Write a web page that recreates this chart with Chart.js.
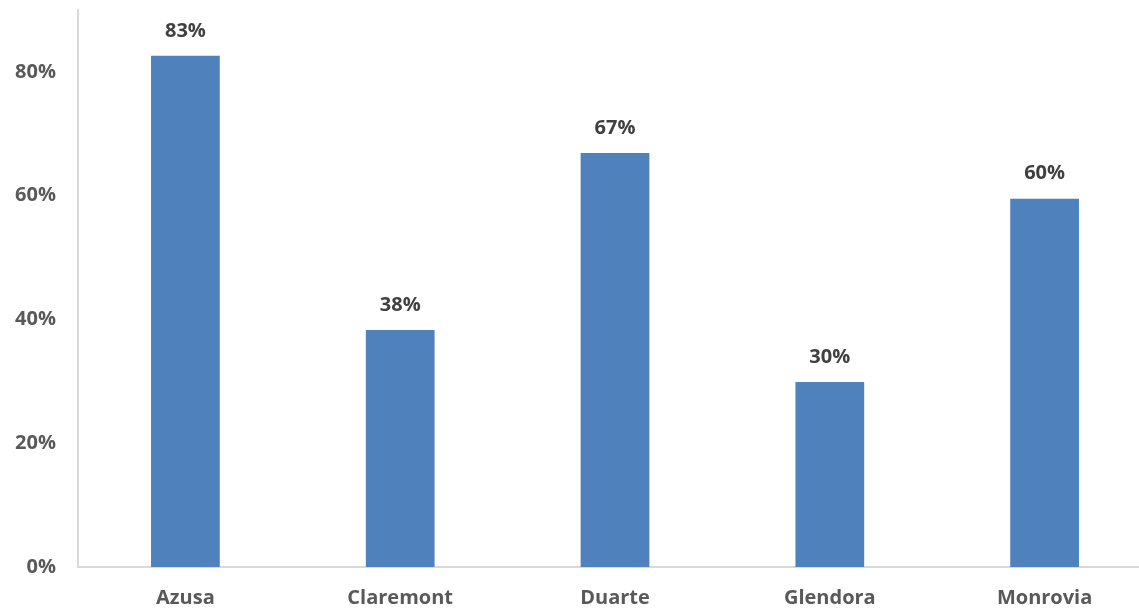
<!DOCTYPE html>
<html>
<head>
<meta charset="utf-8">
<script src="https://cdn.jsdelivr.net/npm/chart.js@4"></script>
<style>
html,body{margin:0;padding:0;background:#fff;overflow:hidden;}
canvas{display:block;}
</style>
</head>
<body>
<canvas id="c" width="1152" height="610" style="width:1152px;height:610px;"></canvas>
<script>
const categories = ["Azusa", "Claremont", "Duarte", "Glendora", "Monrovia"];
const values = [82.6, 38.3, 66.9, 29.9, 59.5];
const dataLabels = ["83%", "38%", "67%", "30%", "60%"];
const tickValues = [0, 20, 40, 60, 80];

const FONT = "'Open Sans', 'Noto Sans', sans-serif";

const labelPlugin = {
  id: 'barLabels',
  afterDatasetsDraw(chart) {
    const ctx = chart.ctx;
    const meta = chart.getDatasetMeta(0);
    ctx.save();
    ctx.font = "bold 20px " + FONT;
    ctx.fillStyle = "#404040";
    ctx.textAlign = "center";
    ctx.textBaseline = "middle";
    meta.data.forEach((bar, i) => {
      ctx.fillText(dataLabels[i], bar.x, bar.y - 25);
    });
    ctx.restore();
  }
};

new Chart(document.getElementById('c'), {
  type: 'bar',
  data: {
    labels: categories,
    datasets: [{
      data: values,
      backgroundColor: '#4f81bd',
      barPercentage: 0.32,
      categoryPercentage: 1.0
    }]
  },
  options: {
    responsive: false,
    animation: false,
    devicePixelRatio: 1,
    layout: { padding: { top: 10, left: 0, right: 0, bottom: 0 } },
    plugins: { legend: { display: false }, tooltip: { enabled: false } },
    scales: {
      y: {
        min: 0, max: 90,
        afterBuildTicks: (axis) => { axis.ticks = tickValues.map(v => ({ value: v })); },
        afterFit: (axis) => { axis.width = 78; axis.paddingTop = 0; axis.paddingBottom = 0; },
        grid: { display: false, drawTicks: false },
        border: { display: true, color: '#d9d9d9', width: 2 },
        ticks: {
          padding: 22,
          color: '#595959',
          font: { family: FONT, size: 20, weight: 'bold' },
          callback: (v) => v + '%'
        }
      },
      x: {
        afterFit: (axis) => { axis.height = 43; axis.paddingLeft = 0; axis.paddingRight = 0; },
        grid: { display: false, drawTicks: false },
        border: { display: true, color: '#d9d9d9', width: 2 },
        ticks: {
          padding: 19,
          color: '#595959',
          font: { family: FONT, size: 20, weight: 'bold' }
        }
      }
    }
  },
  plugins: [labelPlugin]
});
</script>
</body>
</html>
